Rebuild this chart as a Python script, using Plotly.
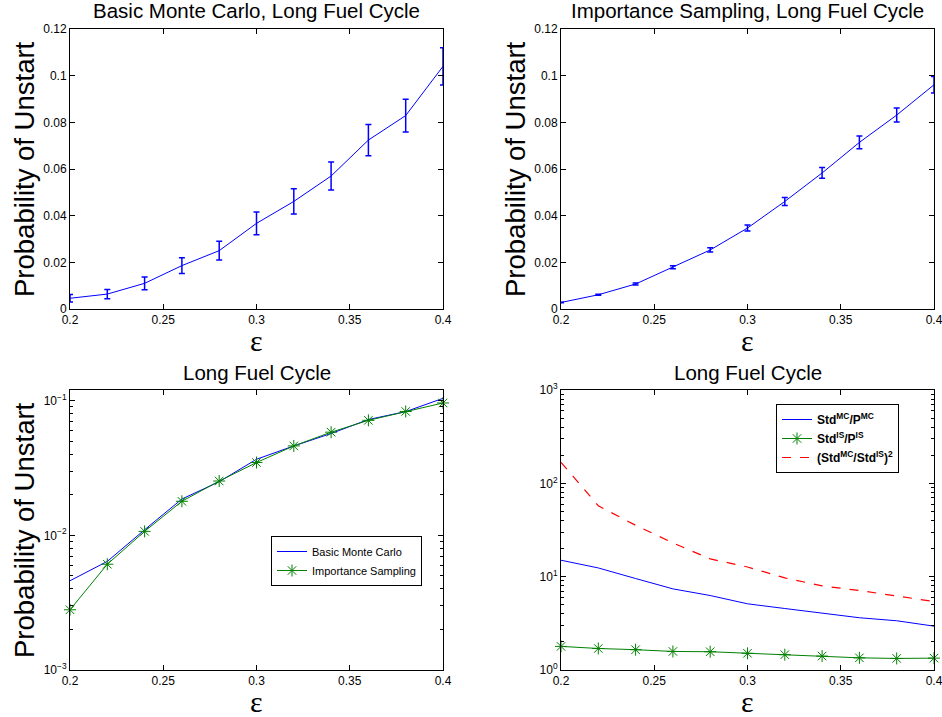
import plotly.graph_objects as go

W, H = 942, 717

# ---------------- data ----------------
eps = [0.20, 0.22, 0.24, 0.26, 0.28, 0.30, 0.32, 0.34, 0.36, 0.38, 0.40]
p_mc = [0.0046, 0.0064, 0.0110, 0.0186, 0.0250, 0.0367, 0.0461, 0.0570, 0.0724, 0.0829, 0.1040]
err_mc = [0.0016, 0.0020, 0.0027, 0.0034, 0.0040, 0.0049, 0.0054, 0.0060, 0.0067, 0.0070, 0.0080]
p_is = [0.0028, 0.0061, 0.0107, 0.0179, 0.0253, 0.0347, 0.0461, 0.0583, 0.0714, 0.0831, 0.0961]
err_is = [0.0001, 0.0002, 0.0004, 0.0006, 0.0009, 0.0013, 0.0017, 0.0023, 0.0027, 0.0030, 0.0035]
rel_mc = [15.0, 12.4, 9.55, 7.4, 6.28, 5.12, 4.56, 4.07, 3.63, 3.37, 2.95]
rel_is = [1.79, 1.70, 1.65, 1.58, 1.57, 1.51, 1.46, 1.41, 1.35, 1.33, 1.34]
ratio = [168, 57.5, 35.5, 23.0, 15.5, 12.7, 9.7, 7.96, 7.1, 6.18, 5.42]

x_ticks = [0.2, 0.25, 0.3, 0.35, 0.4]
x_ticktext = ["0.2", "0.25", "0.3", "0.35", "0.4"]
lin_ticks = [0, 0.02, 0.04, 0.06, 0.08, 0.1, 0.12]
lin_ticktext = ["0", "0.02", "0.04", "0.06", "0.08", "0.1", "0.12"]

titles = ["Basic Monte Carlo, Long Fuel Cycle", "Importance Sampling, Long Fuel Cycle",
          "Long Fuel Cycle", "Long Fuel Cycle"]
ylabel = "Probability of Unstart"
xlabel = "ε"

BLUE = "#0000FF"
GREEN = "#008000"
RED = "#FF0000"
FONT = "Liberation Sans, Arial, Helvetica, sans-serif"

# ---------------- layout geometry (pixels) ----------------
def px_x(a, b):
    return [a / W, b / W]

def px_y(top, bottom):
    return [1 - bottom / H, 1 - top / H]

def pxx(a):
    return a / W

def pxy(a):
    return 1 - a / H

dom = {
    1: (px_x(70, 443), px_y(29, 309)),
    2: (px_x(561, 934), px_y(29, 309)),
    3: (px_x(70, 443), px_y(390, 670)),
    4: (px_x(561, 934), px_y(390, 670)),
}

fig = go.Figure()

fig.add_trace(go.Scatter(x=eps, y=p_mc, mode="lines", line=dict(color=BLUE, width=1),
                         error_y=dict(type="data", array=err_mc, color=BLUE, thickness=1.5, width=3),
                         xaxis="x", yaxis="y", showlegend=False))
fig.add_trace(go.Scatter(x=eps, y=p_is, mode="lines", line=dict(color=BLUE, width=1),
                         error_y=dict(type="data", array=err_is, color=BLUE, thickness=1.5, width=3),
                         xaxis="x2", yaxis="y2", showlegend=False))
fig.add_trace(go.Scatter(x=eps, y=p_mc, mode="lines", line=dict(color=BLUE, width=1),
                         name="Basic Monte Carlo", xaxis="x3", yaxis="y3", legend="legend"))
fig.add_trace(go.Scatter(x=eps, y=p_is, mode="lines+markers", line=dict(color=GREEN, width=1),
                         marker=dict(symbol="asterisk-open", size=10, line=dict(color=GREEN, width=1)),
                         name="Importance Sampling", xaxis="x3", yaxis="y3", legend="legend",
                         cliponaxis=False))
fig.add_trace(go.Scatter(x=eps, y=rel_mc, mode="lines", line=dict(color=BLUE, width=1),
                         name="<b>Std<sup>MC</sup>/P<sup>MC</sup></b>", xaxis="x4", yaxis="y4",
                         legend="legend2"))
fig.add_trace(go.Scatter(x=eps, y=rel_is, mode="lines+markers", line=dict(color=GREEN, width=1),
                         marker=dict(symbol="asterisk-open", size=10, line=dict(color=GREEN, width=1)),
                         name="<b>Std<sup>IS</sup>/P<sup>IS</sup></b>", xaxis="x4", yaxis="y4",
                         legend="legend2", cliponaxis=False))
fig.add_trace(go.Scatter(x=eps, y=ratio, mode="lines", line=dict(color=RED, width=1.2, dash="dash"),
                         name="<b>(Std<sup>MC</sup>/Std<sup>IS</sup>)<sup>2</sup></b>", xaxis="x4", yaxis="y4",
                         legend="legend2"))

common_axis = dict(showline=True, linecolor="black", linewidth=1, mirror="ticks",
                   ticks="inside", ticklen=5, tickcolor="black", showgrid=False, zeroline=False,
                   ticklabeloverflow="allow",
                   tickfont=dict(family=FONT, size=12, color="black"))

def sup(e):
    return "10<sup>" + e.replace("-", "−") + "</sup>"

def minor_log(lo, hi):
    return [m * 10 ** k for k in range(lo, hi) for m in range(2, 10)]

layout = dict(width=W, height=H, margin=dict(l=0, r=0, t=0, b=0, autoexpand=False),
              paper_bgcolor="white", plot_bgcolor="white",
              font=dict(family=FONT, color="black"))

for i in range(1, 5):
    xk = "xaxis" if i == 1 else f"xaxis{i}"
    yk = "yaxis" if i == 1 else f"yaxis{i}"
    xd, yd = dom[i]
    layout[xk] = dict(common_axis, domain=xd, range=[0.2, 0.4], tickmode="array",
                      tickvals=x_ticks, ticktext=x_ticktext,
                      anchor="y" if i == 1 else f"y{i}")
    if i in (1, 2):
        layout[yk] = dict(common_axis, domain=yd, range=[0, 0.12], tickmode="array",
                          tickvals=lin_ticks, ticktext=lin_ticktext,
                          anchor="x" if i == 1 else f"x{i}")
    elif i == 3:
        layout[yk] = dict(common_axis, domain=yd, type="log", range=[-3, -0.921], tickmode="array",
                          tickvals=[1e-3, 1e-2, 1e-1], ticktext=[sup("-3"), sup("-2"), sup("-1")],
                          minor=dict(ticks="inside", ticklen=3, tickcolor="black",
                                     tickmode="array", tickvals=minor_log(-3, -1), showgrid=False),
                          anchor="x3")
    else:
        layout[yk] = dict(common_axis, domain=yd, type="log", range=[0, 3], tickmode="array",
                          tickvals=[1, 10, 100, 1000], ticktext=[sup("0"), sup("1"), sup("2"), sup("3")],
                          minor=dict(ticks="inside", ticklen=3, tickcolor="black",
                                     tickmode="array", tickvals=minor_log(0, 3), showgrid=False),
                          anchor="x4")

layout["legend"] = dict(x=pxx(271), y=pxy(536), xanchor="left", yanchor="top",
                        bordercolor="black", borderwidth=1, bgcolor="white",
                        font=dict(family=FONT, size=11, color="black"),
                        tracegroupgap=0, itemwidth=30)
layout["legend2"] = dict(x=pxx(776), y=pxy(404), xanchor="left", yanchor="top",
                         bordercolor="black", borderwidth=1, bgcolor="white",
                         font=dict(family=FONT, size=12, color="black"),
                         tracegroupgap=0, itemwidth=30)

ann = []
title_y = [11, 11, 372, 372]
for i in range(1, 5):
    xd, yd = dom[i]
    xc = (xd[0] + xd[1]) / 2
    ann.append(dict(text=titles[i - 1], x=xc, y=pxy(title_y[i - 1]), xref="paper", yref="paper",
                    xanchor="center", yanchor="middle", showarrow=False,
                    font=dict(family=FONT, size=20.5, color="black")))
    xl_y = 340 if i <= 2 else 701
    ann.append(dict(text=xlabel, x=xc, y=pxy(xl_y), xref="paper", yref="paper",
                    xanchor="center", yanchor="middle", showarrow=False,
                    font=dict(family="Liberation Serif, Times New Roman, serif", size=30, color="black")))
    if i != 4:
        ylx = 24 if i in (1, 3) else 515
        yc = (yd[0] + yd[1]) / 2
        ann.append(dict(text=ylabel, x=pxx(ylx), y=yc, xref="paper", yref="paper",
                        xanchor="center", yanchor="middle", showarrow=False, textangle=-90,
                        font=dict(family=FONT, size=27.5, color="black")))
layout["annotations"] = ann

fig.update_layout(**layout)
fig.write_html("out.html", config={"displayModeBar": False},
               post_script="document.body.style.margin='0';document.body.style.overflow='hidden';")
